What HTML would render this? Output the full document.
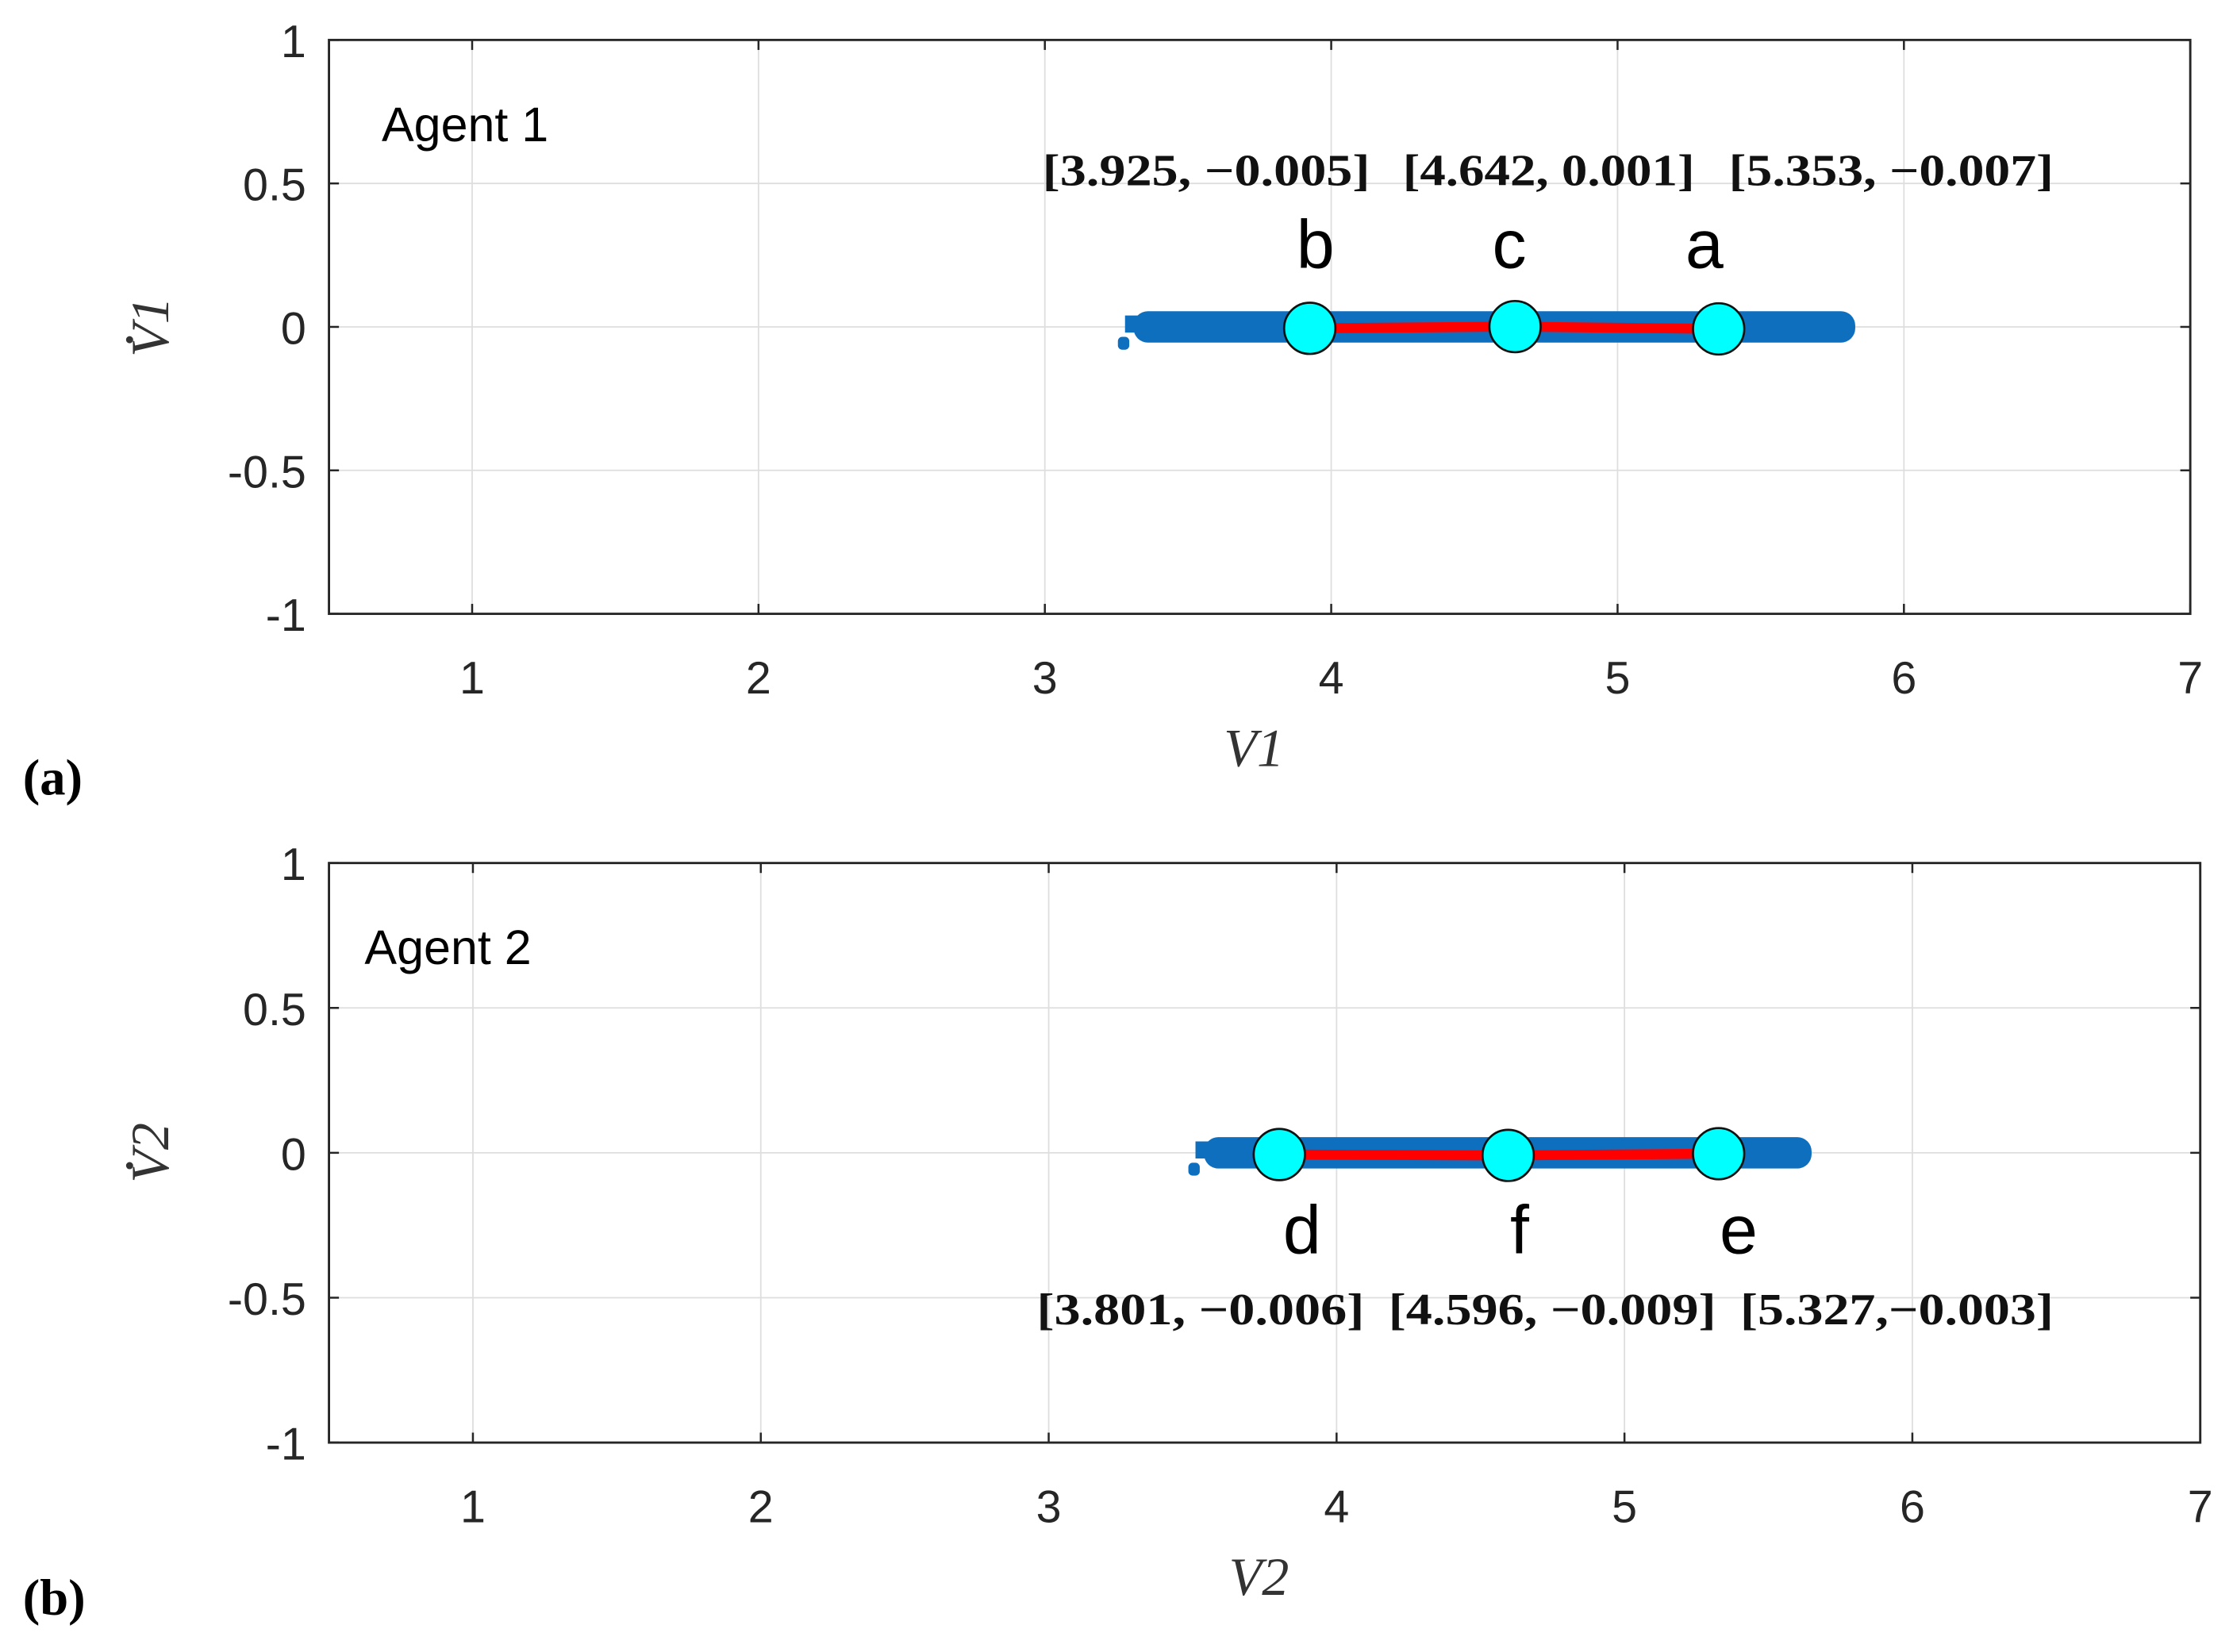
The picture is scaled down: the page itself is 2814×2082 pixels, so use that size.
<!DOCTYPE html>
<html><head><meta charset="utf-8"><style>
html,body{margin:0;padding:0;background:#fff;}
svg{display:block;}
text{font-family:"Liberation Sans",sans-serif;}
.tick{font-size:32px;fill:#262626;}
.serif{font-family:"Liberation Serif",serif;}
</style></head><body>
<svg id="fig" width="2814" height="2082" viewBox="0 0 1568 1160" xmlns="http://www.w3.org/2000/svg"></svg>
<script>
const xTicks = [1,2,3,4,5,6,7];
const yTicks = [1,0.5,0,-0.5,-1];
const yTickLabels = ["1","0.5","0","-0.5","-1"];
const agent1X = [3.925, 4.642, 5.353];
const agent1Y = [-0.005, 0.001, -0.007];
const agent1Names = ["b","c","a"];
const agent1Labels = ["[3.925, \u22120.005]","[4.642, 0.001]","[5.353, \u22120.007]"];
const agent1Blob = [3.27, 5.83];
const agent2X = [3.801, 4.596, 5.327];
const agent2Y = [-0.006, -0.009, -0.003];
const agent2Names = ["d","f","e"];
const agent2Labels = ["[3.801, \u22120.006]","[4.596, \u22120.009]","[5.327,\u22120.003]"];
const agent2Blob = [3.5, 5.65];

const NS="http://www.w3.org/2000/svg";
const svg=document.getElementById('fig');
function mk(tag,attrs,parent){const e=document.createElementNS(NS,tag);for(const k in attrs)e.setAttribute(k,attrs[k]);(parent||svg).appendChild(e);return e;}

function panel(cfg){
  const g=mk('g',{});
  
  
  const L=cfg.left,R=cfg.right,T=cfg.top,B=cfg.bottom;
  const sx=v=>L+(v-0.5)/(6.5)*(R-L);
  const sy=v=>T+(1-v)/2*(B-T);
  xTicks.forEach(t=>{const l=mk('line',{x1:sx(t),x2:sx(t),y1:T,y2:B,stroke:'#dedede','stroke-width':1},g);
    });
  yTicks.forEach(t=>{const l=mk('line',{x1:L,x2:R,y1:sy(t),y2:sy(t),stroke:'#dedede','stroke-width':1},g);
    });
  const box=mk('rect',{x:L,y:T,width:R-L,height:B-T,fill:'none',stroke:'#262626','stroke-width':1.6},g);
  
  xTicks.forEach(t=>{mk('line',{x1:sx(t),x2:sx(t),y1:B,y2:B-7,stroke:'#262626','stroke-width':1.4},g);mk('line',{x1:sx(t),x2:sx(t),y1:T,y2:T+7,stroke:'#262626','stroke-width':1.4},g);
    const tx=mk('text',{x:sx(t),y:B+56,'text-anchor':'middle',class:'tick'},g);tx.textContent=t;
    });
  yTicks.forEach((t,i)=>{mk('line',{x1:L,x2:L+7,y1:sy(t),y2:sy(t),stroke:'#262626','stroke-width':1.4},g);mk('line',{x1:R,x2:R-7,y1:sy(t),y2:sy(t),stroke:'#262626','stroke-width':1.4},g);
    const tx=mk('text',{x:L-16,y:sy(t)+12,'text-anchor':'end',class:'tick'},g);tx.textContent=yTickLabels[i];
    });
  const bl=mk('rect',{x:sx(cfg.blob[0])+8,y:sy(0)-11,width:sx(cfg.blob[1])-sx(cfg.blob[0])-8,height:22,rx:10,fill:'#0e6fbf'},g);
  
  mk('rect',{x:sx(cfg.blob[0])+2,y:sy(0)-8,width:30,height:12,fill:'#0e6fbf'},g);
  mk('rect',{x:sx(cfg.blob[0])-3,y:sy(0)+7,width:8,height:9,rx:3,fill:'#0e6fbf'},g);
  const pts=cfg.xs.map((x,i)=>sx(x)+','+sy(cfg.ys[i])).join(' ');
  const rl=mk('polyline',{points:pts,fill:'none',stroke:'#ff0000','stroke-width':7},g);
  
  cfg.xs.forEach((x,i)=>{
    const c=mk('circle',{cx:sx(x),cy:sy(cfg.ys[i]),r:18,fill:'#00ffff',stroke:'#111','stroke-width':1.5},g);
    
    const n=mk('text',{x:sx(x)+cfg.nameDx[i],y:cfg.nameY,'text-anchor':'middle','font-size':48,fill:'#000'},g);n.textContent=cfg.names[i];
    
    const lb=mk('text',{x:cfg.labelX[i][0],y:cfg.labelY,textLength:cfg.labelX[i][1]-cfg.labelX[i][0],lengthAdjust:'spacingAndGlyphs','font-size':31,'font-weight':'bold',fill:'#111',class:'serif'},g);lb.textContent=cfg.labels[i];
    
  });
  const ag=mk('text',{x:cfg.agentX,y:T+71,'font-size':34,fill:'#000'},g);ag.textContent=cfg.agent;
  
  const xl=mk('text',{x:(L+R)/2-4,y:B+107,'text-anchor':'middle','font-size':38,'font-style':'italic',fill:'#333',class:'serif'},g);xl.textContent=cfg.xlabel;
  
  const yl=mk('text',{x:0,y:0,'text-anchor':'middle','font-size':38,'font-style':'italic',fill:'#333',class:'serif',transform:`translate(118,${(T+B)/2}) rotate(-90)`},g);yl.textContent=cfg.ylabel;
  
  mk('circle',{cx:91,cy:(T+B)/2+9,r:2.5,fill:'#333'},g);
  const pl=mk('text',{x:16,y:cfg.tagY,'font-size':36,'font-weight':'bold',fill:'#000',class:'serif'},g);pl.textContent=cfg.tag;
  
}
panel({name:'panel-a',left:231,right:1538,top:28,bottom:431,xs:agent1X,ys:agent1Y,names:agent1Names,labels:agent1Labels,blob:agent1Blob,
  nameY:188,nameDx:[4,-4,-10],labelX:[[732,962],[985,1190],[1214,1442]],labelY:130,agent:'Agent 1',agentX:268,xlabel:'V1',ylabel:'V1',tag:'(a)',tagY:558});
panel({name:'panel-b',left:231,right:1545,top:606,bottom:1013,xs:agent2X,ys:agent2Y,names:agent2Names,labels:agent2Labels,blob:agent2Blob,
  nameY:880,nameDx:[16,8,14],labelX:[[728,958],[975,1205],[1222,1442]],labelY:930,agent:'Agent 2',agentX:256,xlabel:'V2',ylabel:'V2',tag:'(b)',tagY:1134});
</script>
</body></html>
